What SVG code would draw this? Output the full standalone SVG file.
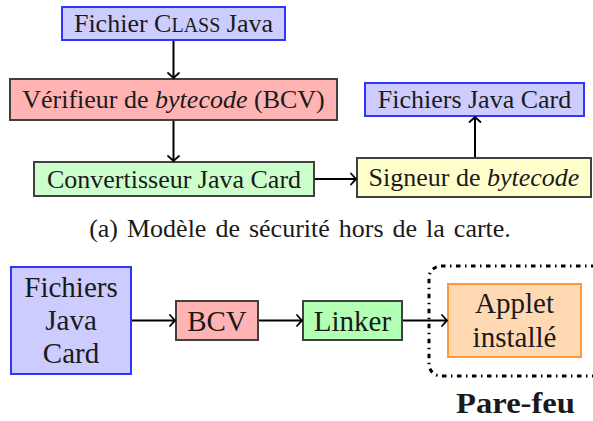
<svg xmlns="http://www.w3.org/2000/svg" width="593" height="421" viewBox="0 0 593 421">
<defs>
<marker id="ah" viewBox="-10 -10 20 20" markerWidth="20" markerHeight="20" refX="0" refY="0" orient="auto" markerUnits="userSpaceOnUse">
<path d="M-5,-5.5 Q-1.5,-1.5 0,0 Q-1.5,1.5 -5,5.5" fill="none" stroke="#000" stroke-width="1.8" stroke-linecap="round"/>
</marker>
</defs>
<style>
text{font-family:"Liberation Serif","Times New Roman",serif;fill:#1a1a1a;text-anchor:middle}
.t{font-size:26px}
.b{font-size:29px}
.blue{fill:#ccccff;stroke:#3333ff;stroke-width:2}
.red{fill:#ffb3b3;stroke:#404040;stroke-width:2}
.green{fill:#ccffcc;stroke:#404040;stroke-width:2}
.green2{fill:#b3ffb3;stroke:#404040;stroke-width:2}
.yellow{fill:#ffffcc;stroke:#404040;stroke-width:2}
.orange{fill:#ffd9b3;stroke:#ff9933;stroke-width:2}
.c line{stroke:#000;stroke-width:2;marker-end:url(#ah)}
</style>
<g id="class-java"><rect class="blue" x="62" y="7" width="223" height="33"/><text class="t" x="173.5" y="32">Fichier C<tspan font-size="20">LASS</tspan> Java</text></g>
<g id="bcv-top"><rect class="red" x="10" y="79" width="327" height="41"/><text class="t" x="173.5" y="108">Vérifieur de <tspan font-style="italic">bytecode</tspan> (BCV)</text></g>
<g id="convertisseur"><rect class="green" x="34" y="162" width="280" height="34"/><text class="t" x="174" y="188">Convertisseur Java Card</text></g>
<g id="fichiers-jc-top"><rect class="blue" x="365" y="83" width="219" height="33"/><text class="t" x="474.5" y="108">Fichiers Java Card</text></g>
<g id="signeur"><rect class="yellow" x="357" y="158" width="234" height="39"/><text class="t" x="474" y="186">Signeur de <tspan font-style="italic">bytecode</tspan></text></g>
<text id="caption" class="t" x="300" y="237" font-size="25" word-spacing="2.5">(a) Modèle de sécurité hors de la carte.</text>
<g id="fichiers-jc"><rect class="blue" x="11" y="267" width="120" height="107"/><text class="b" x="71" y="297">Fichiers</text><text class="b" x="71" y="330">Java</text><text class="b" x="71" y="363">Card</text></g>
<g id="bcv"><rect class="red" x="176" y="301" width="82" height="39"/><text class="b" x="217" y="331">BCV</text></g>
<g id="linker"><rect class="green2" x="303" y="301" width="99" height="39"/><text class="b" x="352.5" y="331">Linker</text></g>
<g id="parefeu"><rect x="429" y="266" width="190" height="110" rx="12" fill="none" stroke="#000" stroke-width="3" stroke-dasharray="4.5 4.5 1.5 4.5"/><text x="515.5" y="413" font-size="30" font-weight="bold" textLength="119" lengthAdjust="spacingAndGlyphs">Pare-feu</text></g>
<g id="applet"><rect class="orange" x="448" y="284" width="133" height="73"/><text class="b" x="514.5" y="313">Applet</text><text class="b" x="514.5" y="347">installé</text></g>
<g class="c" id="connectors">
<line x1="173.5" y1="41" x2="173.5" y2="78"/>
<line x1="173.5" y1="121" x2="173.5" y2="161"/>
<line x1="315" y1="179" x2="356" y2="179"/>
<line x1="475" y1="157" x2="475" y2="117"/>
<line x1="132" y1="320.5" x2="175" y2="320.5"/>
<line x1="259" y1="320.5" x2="302" y2="320.5"/>
<line x1="403" y1="320.5" x2="447" y2="320.5"/>
</g>
</svg>
